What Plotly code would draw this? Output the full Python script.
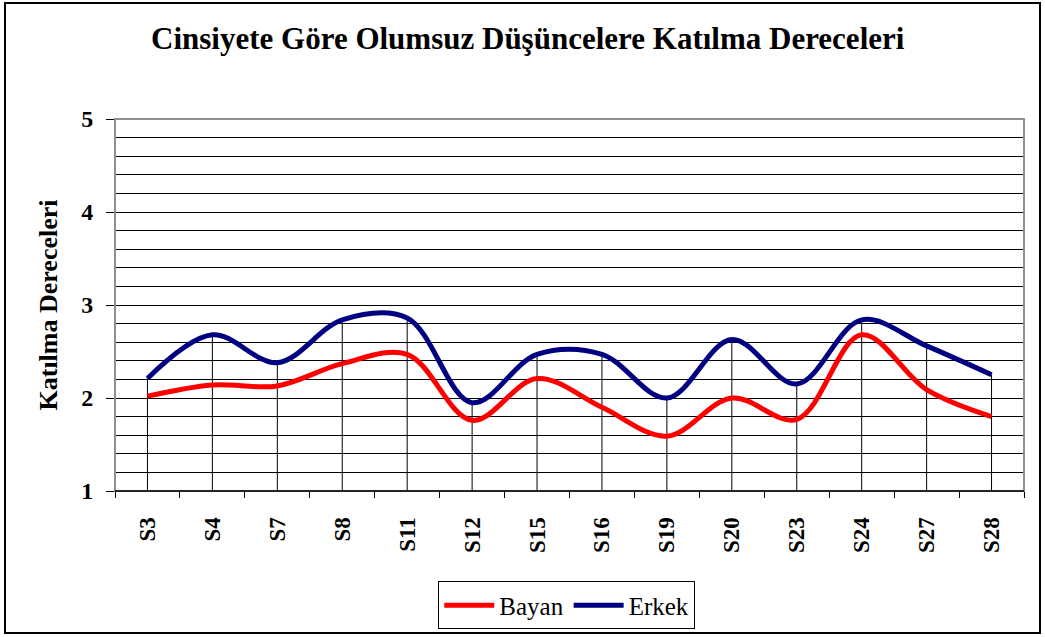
import plotly.graph_objects as go

categories = ["S3", "S4", "S7", "S8", "S11", "S12", "S15", "S16", "S19", "S20", "S23", "S24", "S27", "S28"]
bayan = [2.02, 2.14, 2.13, 2.37, 2.47, 1.76, 2.21, 1.90, 1.59, 2.00, 1.77, 2.68, 2.09, 1.80]
erkek = [2.21, 2.68, 2.38, 2.84, 2.86, 1.95, 2.47, 2.47, 2.00, 2.63, 2.15, 2.84, 2.56, 2.25]

y_min, y_max = 1, 5
title_text = "Cinsiyete Göre Olumsuz Düşüncelere Katılma Dereceleri"
y_title = "Katılma Dereceleri"

FONT = "Liberation Serif"

# drop lines from the axis up to the highest series at each category
drop_x, drop_y = [], []
for c, b, e in zip(categories, bayan, erkek):
    drop_x += [c, c, None]
    drop_y += [y_min, max(b, e), None]

fig = go.Figure()
fig.add_trace(go.Scatter(x=drop_x, y=drop_y, mode="lines",
                         line=dict(color="black", width=1),
                         showlegend=False, hoverinfo="skip"))
fig.add_trace(go.Scatter(x=categories, y=bayan, name="Bayan", mode="lines",
                         line=dict(color="#FF0000", width=5, shape="spline", smoothing=1)))
fig.add_trace(go.Scatter(x=categories, y=erkek, name="Erkek", mode="lines",
                         line=dict(color="#000080", width=5, shape="spline", smoothing=1)))

fig.update_layout(
    width=1045, height=637,
    margin=dict(l=115, r=21, t=119, b=146, autoexpand=False),
    paper_bgcolor="white", plot_bgcolor="white",
    font=dict(family=FONT, color="black"),
    title=dict(text="<b>" + title_text + "</b>", x=0.505, xanchor="center",
               y=0.94, yanchor="middle", font=dict(family=FONT, size=31, color="black")),
    showlegend=True,
    legend=dict(orientation="h", x=0.497, xanchor="center", y=-0.243, yanchor="top",
                bordercolor="black", borderwidth=1, font=dict(family=FONT, size=25),
                itemwidth=50, tracegroupgap=0),
)

fig.update_xaxes(
    type="category", categoryorder="array", categoryarray=categories,
    range=[-0.5, len(categories) - 0.5],
    tickson="boundaries", ticks="outside", ticklen=6, tickcolor="black",
    showgrid=False, showline=True, linecolor="black", linewidth=1,
    tickangle=-90, tickfont=dict(family=FONT, size=23, color="black"),
    tickprefix="<b>", ticksuffix="</b>", ticklabelstandoff=16,
    zeroline=False,
)
fig.update_yaxes(
    range=[y_min, y_max], tickmode="linear", tick0=1, dtick=1,
    ticks="outside", ticklen=8, tickcolor="black",
    showgrid=True, gridcolor="black", gridwidth=1,
    minor=dict(dtick=0.2, showgrid=True, gridcolor="black", gridwidth=1, ticks=""),
    showline=True, linecolor="#808080", linewidth=1,
    tickfont=dict(family=FONT, size=24, color="black"),
    tickprefix="<b>", ticksuffix="</b>", ticklabelstandoff=8,
    title=dict(text="<b>" + y_title + "</b>", font=dict(family=FONT, size=26, color="black"), standoff=16),
    zeroline=False,
)

# plot area border (gray) and outer chart frame (black)
fig.add_shape(type="rect", xref="x domain", yref="y domain", x0=0, y0=0, x1=1, y1=1,
              line=dict(color="#909090", width=2), layer="above")
fig.add_shape(type="line", xref="x domain", yref="y domain", x0=0, y0=0, x1=1, y1=0,
              line=dict(color="black", width=1.5), layer="above")
fig.add_shape(type="rect", xref="paper", yref="paper",
              x0=(5 - 115) / 909, x1=(1040 - 115) / 909,
              y0=(491 - 633) / 372, y1=(491 - 3) / 372,
              line=dict(color="black", width=2), layer="below")

fig.write_html("out.html", config={"displayModeBar": False},
               post_script="document.body.style.margin='0';")
